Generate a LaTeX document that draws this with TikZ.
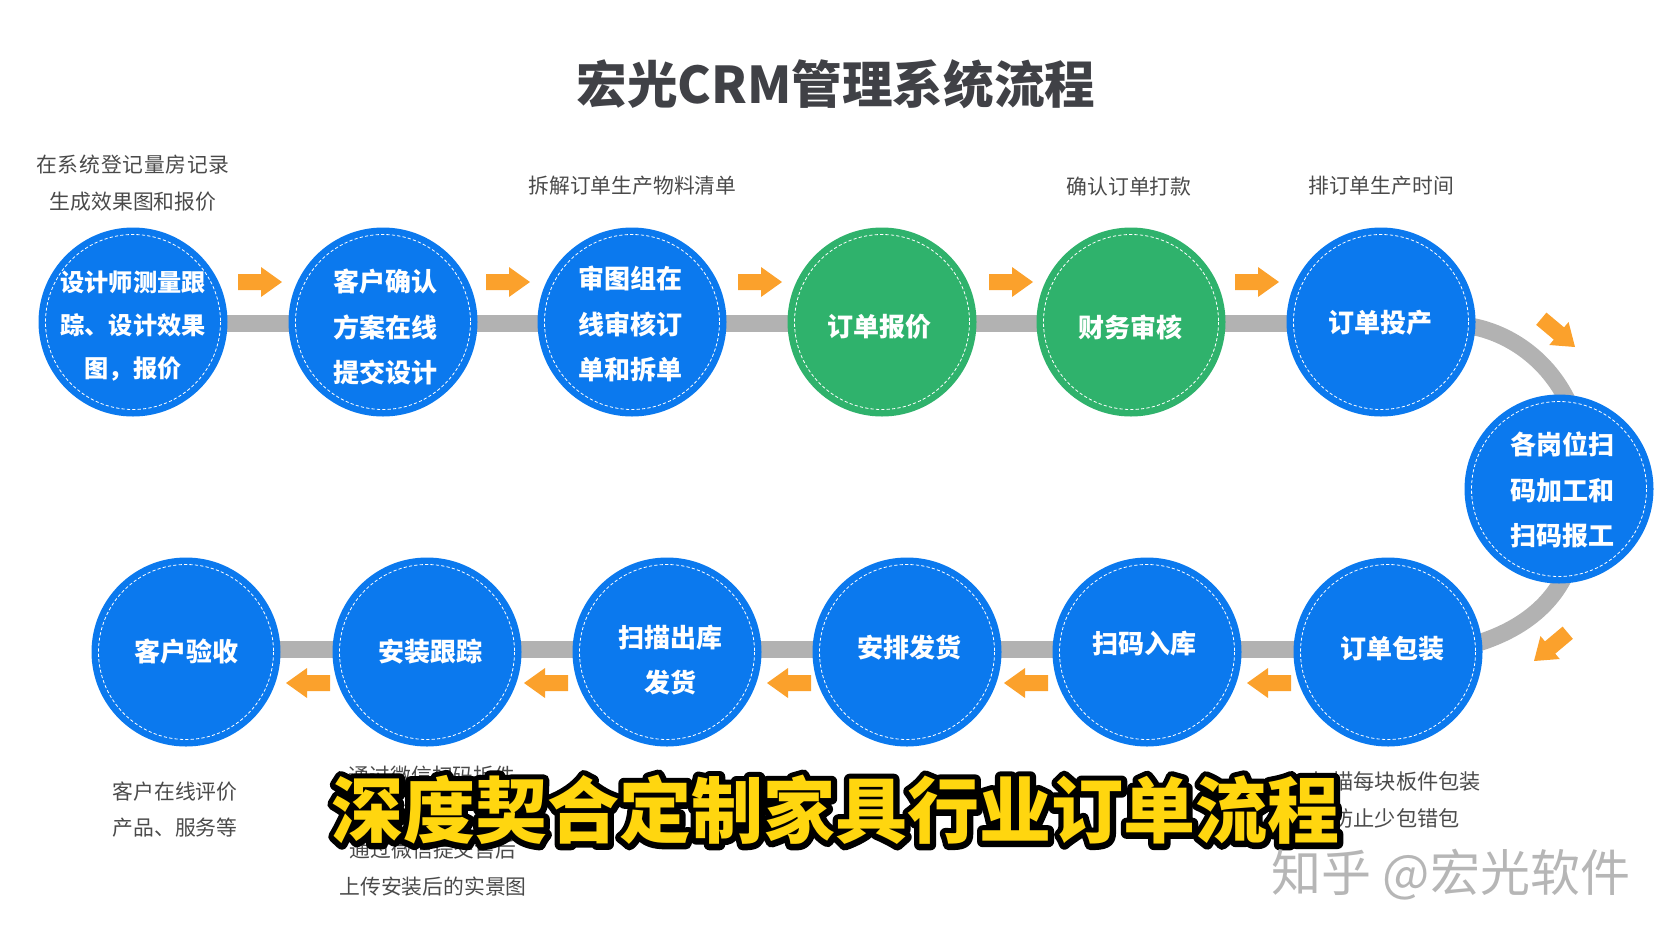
\documentclass[tikz,border=0pt]{standalone}
\usepackage{fontspec}
\usetikzlibrary{backgrounds}
\setmainfont{Noto Sans CJK SC}
\newfontfamily\cjk{Noto Sans CJK SC}
\newfontfamily\cjko[BoldFeatures={FakeBold=16}]{Noto Sans CJK SC}
\definecolor{stepblue}{HTML}{0B79EE}
\definecolor{stepgreen}{HTML}{2FB26C}
\definecolor{bandgray}{HTML}{B2B2B2}
\definecolor{arroworange}{HTML}{FBA12C}
\definecolor{notegray}{HTML}{4A4A4A}
\definecolor{titlegray}{HTML}{404146}
\definecolor{subyellow}{HTML}{FFD60F}
\definecolor{markgray}{HTML}{B6B6B6}
\tikzset{
  stepcircle/.style={circle,fill=#1,minimum size=189pt,inner sep=0pt,
    path picture={\draw[white,line width=0.8pt,dash pattern=on 3.2pt off 2.2pt]
      (path picture bounding box.center) circle (87.5);}},
  steptext/.style={text=white,align=center,inner sep=0pt,
    font=\cjk\bfseries\fontsize{26}{45.5}\selectfont},
  band/.style={draw=bandgray,line width=17pt,line join=round},
  note/.style={text=notegray,align=center,inner sep=0pt,
    font=\cjk\fontsize{20.8}{36.3}\selectfont},
  flow/.style={fill=arroworange},
}
\newcommand\flowarrow[3]{%
  \fill[flow,shift={(#1,#2)},rotate=#3]
    (0,0) -- (-21,15) -- (-21,8) -- (-44,8) -- (-44,-8) -- (-21,-8) -- (-21,-15) -- cycle;}
\begin{document}
\begin{tikzpicture}[x=1pt,y=-1pt]
\useasboundingbox (0,0) rectangle (1672,940);

\node[text=titlegray,inner sep=0pt,font=\cjk\bfseries\fontsize{50.6}{60}\selectfont] (title) at (836,84) {宏光CRM管理系统流程};

% top row
\node[stepcircle=stepblue,label={[steptext,yshift=-4pt,font=\cjk\bfseries\fontsize{24.2}{42.6}\selectfont]center:{设计师测量跟\\踪、设计效果\\图，报价}}] (n1) at (133,322) {};
\node[stepcircle=stepblue,label={[steptext,xshift=2pt,yshift=-5pt]center:{客户确认\\方案在线\\提交设计}}] (n2) at (383,322) {};
\node[stepcircle=stepblue,label={[steptext,xshift=-2pt,yshift=-2pt]center:{审图组在\\线审核订\\单和拆单}}] (n3) at (632,322) {};
\node[stepcircle=stepgreen,label={[steptext,xshift=-3pt,yshift=-5pt]center:{订单报价}}] (n4) at (882,322) {};
\node[stepcircle=stepgreen,label={[steptext,xshift=-1pt,yshift=-5pt]center:{财务审核}}] (n5) at (1131,322) {};
\node[stepcircle=stepblue,label={[steptext,xshift=-1pt,yshift=-1pt]center:{订单投产}}] (n6) at (1381,322) {};
% turn
\node[stepcircle=stepblue,label={[steptext,xshift=3pt,yshift=-1pt]center:{各岗位扫\\码加工和\\扫码报工}}] (n7) at (1559,489) {};
% bottom row
\node[stepcircle=stepblue,label={[steptext,xshift=4pt,yshift=3pt]center:{订单包装}}] (n8) at (1388,652) {};
\node[stepcircle=stepblue,label={[steptext,xshift=-3pt,yshift=8pt]center:{扫码入库}}] (n9) at (1147,652) {};
\node[stepcircle=stepblue,label={[steptext,xshift=2pt,yshift=4pt]center:{安排发货}}] (n10) at (907,652) {};
\node[stepcircle=stepblue,label={[steptext,xshift=3pt,yshift=-8pt]center:{扫描出库\\发货}}] (n11) at (667,652) {};
\node[stepcircle=stepblue,label={[steptext,xshift=3pt]center:{安装跟踪}}] (n12) at (427,652) {};
\node[stepcircle=stepblue,label={[steptext]center:{客户验收}}] (n13) at (186,652) {};

\coordinate (a1) at (1470,326);
\coordinate (a2) at (1568,402);
\coordinate (b1) at (1565,575);
\coordinate (b2) at (1475,644);

\begin{scope}[on background layer]
  \foreach \p/\q in {n1/n2,n2/n3,n3/n4,n4/n5,n5/n6}
    \draw[band] ([yshift=-1.5pt]\p.center) -- ([yshift=-1.5pt]\q.center);
  \foreach \p/\q in {n8/n9,n9/n10,n10/n11,n11/n12,n12/n13}
    \draw[band] ([yshift=3pt]\p.center) -- ([yshift=3pt]\q.center);
  \draw[band] (n6.center) -- (a1) .. controls (1510,333) and (1548,360) .. (a2) -- (n7.center);
  \draw[band] (n7.center) -- (b1) .. controls (1548,610) and (1515,632) .. (b2) -- (n8.center);
\end{scope}

% arrows
\flowarrow{282}{282}{0}
\flowarrow{530}{282}{0}
\flowarrow{782}{282}{0}
\flowarrow{1033}{282}{0}
\flowarrow{1279}{282}{0}
\flowarrow{1575}{347}{-40}
\flowarrow{1534}{661}{-140}
\flowarrow{1247}{683}{180}
\flowarrow{1004}{683}{180}
\flowarrow{767}{683}{180}
\flowarrow{524}{683}{180}
\flowarrow{286}{683}{180}

% notes
\node[note] (t1) at (133,183) {{\addfontfeature{LetterSpace=3.5}在系统登记量房记录}\\生成效果图和报价};
\node[note] (t3) at (632.5,185.5) {拆解订单生产物料清单};
\node[note] (t5) at (1129,186.5) {确认订单打款};
\node[note] (t6) at (1381,185.5) {排订单生产时间};
\node[note] (t13) at (175,809.5) {客户在线评价\\产品、服务等};
\node[note] (t12a) at (432,776) {通过微信扫码拆件};
\node[note] (t12b) at (433,868) {通过微信提交售后\\上传安装后的实景图};
\node[note,font=\cjk\fontsize{21.2}{36.3}\selectfont] (t8) at (1396,800) {扫描每块板件包装\\防止少包错包};

% caption
\begin{scope}[line join=round,line cap=round]
\node[text=black,inner sep=0pt,font=\cjko\bfseries\fontsize{72}{80}\selectfont] (subo) at (835.5,810) {\special{pdf:code 1 j 1 J}深度契合定制家具行业订单流程};
\end{scope}
\node[text=subyellow,inner sep=0pt,font=\cjk\bfseries\fontsize{72}{80}\selectfont] (suby) at (835.5,810) {深度契合定制家具行业订单流程};

% watermark
\node[text=markgray,inner sep=0pt,font=\cjk\fontsize{50}{50}\selectfont] (mark) at (1451,875) {知乎 @宏光软件};
\end{tikzpicture}
\end{document}
